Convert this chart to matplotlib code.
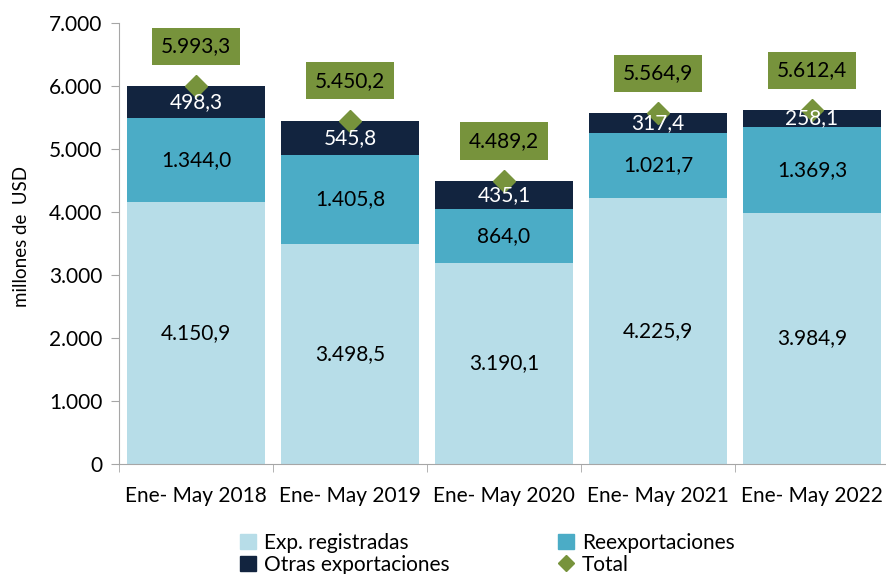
import matplotlib
matplotlib.use("Agg")
import matplotlib.pyplot as plt
from matplotlib.lines import Line2D
from matplotlib.patches import Patch
import numpy as np

categories = ["Ene- May 2018", "Ene- May 2019", "Ene- May 2020", "Ene- May 2021", "Ene- May 2022"]
exp_registradas = [4150.9, 3498.5, 3190.1, 4225.9, 3984.9]
reexportaciones = [1344.0, 1405.8, 864.0, 1021.7, 1369.3]
otras_export = [498.3, 545.8, 435.1, 317.4, 258.1]
total = [5993.3, 5450.2, 4489.2, 5564.9, 5612.4]
yticks = [0, 1000, 2000, 3000, 4000, 5000, 6000, 7000]

plt.rcParams['font.family'] = ['Lato', 'DejaVu Sans']

def fmt(v, dec=1):
    s = f"{v:,.{dec}f}"
    return s.replace(",", "X").replace(".", ",").replace("X", ".")

c_light = "#B7DDE8"
c_mid = "#4BACC6"
c_dark = "#12243F"
c_green = "#77933C"

fig = plt.figure(figsize=(8.86, 5.74), dpi=100)
ax = fig.add_axes([119/886, 110/574, 770/886, 441/574])

x = np.arange(len(categories))
w = 0.9
ax.bar(x, exp_registradas, w, color=c_light, zorder=2)
ax.bar(x, reexportaciones, w, bottom=exp_registradas, color=c_mid, zorder=2)
bot3 = [a + b for a, b in zip(exp_registradas, reexportaciones)]
ax.bar(x, otras_export, w, bottom=bot3, color=c_dark, zorder=2)
ax.plot(x, total, linestyle="none", marker="D", markersize=11, color=c_green, zorder=4)

fs = 15
for i in range(len(x)):
    ax.text(x[i], exp_registradas[i] / 2, fmt(exp_registradas[i]), ha="center", va="center", fontsize=fs, color="black", zorder=5)
    ax.text(x[i], exp_registradas[i] + reexportaciones[i] / 2, fmt(reexportaciones[i]), ha="center", va="center", fontsize=fs, color="black", zorder=5)
    ax.text(x[i], bot3[i] + otras_export[i] / 2, fmt(otras_export[i]), ha="center", va="center", fontsize=fs, color="white", zorder=5)
    ax.annotate(fmt(total[i]), xy=(x[i], total[i]), xytext=(0, 40), textcoords="offset pixels",
                ha="center", va="center", fontsize=fs, color="black", zorder=6,
                bbox=dict(boxstyle="square,pad=0.42", facecolor=c_green, edgecolor="none"))

ax.set_xlim(-0.5, 4.5)
ax.set_ylim(0, 7000)
ax.set_yticks(yticks)
ax.set_yticklabels([fmt(v, 0) for v in yticks], fontsize=fs)
ax.set_xticks(x)
ax.set_xticklabels(categories, fontsize=fs)
ax.set_xticks(np.arange(-0.5, 5.0, 1.0), minor=True)
ax.tick_params(axis="x", which="major", length=0, pad=16)
ax.tick_params(axis="x", which="minor", length=6, color="#A6A6A6", direction="out")
ax.tick_params(axis="y", length=6, color="#A6A6A6", direction="out", pad=6)
for s in ["top", "right"]:
    ax.spines[s].set_visible(False)
ax.spines["left"].set_color("#A6A6A6")
ax.spines["bottom"].set_color("#A6A6A6")
ax.set_ylabel("millones de  USD", fontsize=13.5)
ax.yaxis.set_label_coords(-0.115, 0.515)

handles = [Patch(color=c_light), Patch(color=c_dark), Patch(color=c_mid),
           Line2D([], [], linestyle="none", marker="D", color=c_green, markersize=8)]
labels = ["Exp. registradas", "Otras exportaciones", "Reexportaciones", "Total"]
fig.legend(handles, labels, ncol=2, loc="lower center", bbox_to_anchor=(0.55, -0.034),
           frameon=False, fontsize=fs, handlelength=0.75, handleheight=0.75, handletextpad=0.4,
           columnspacing=5.2, labelspacing=0.1)

fig.savefig("out.png", dpi=100)
